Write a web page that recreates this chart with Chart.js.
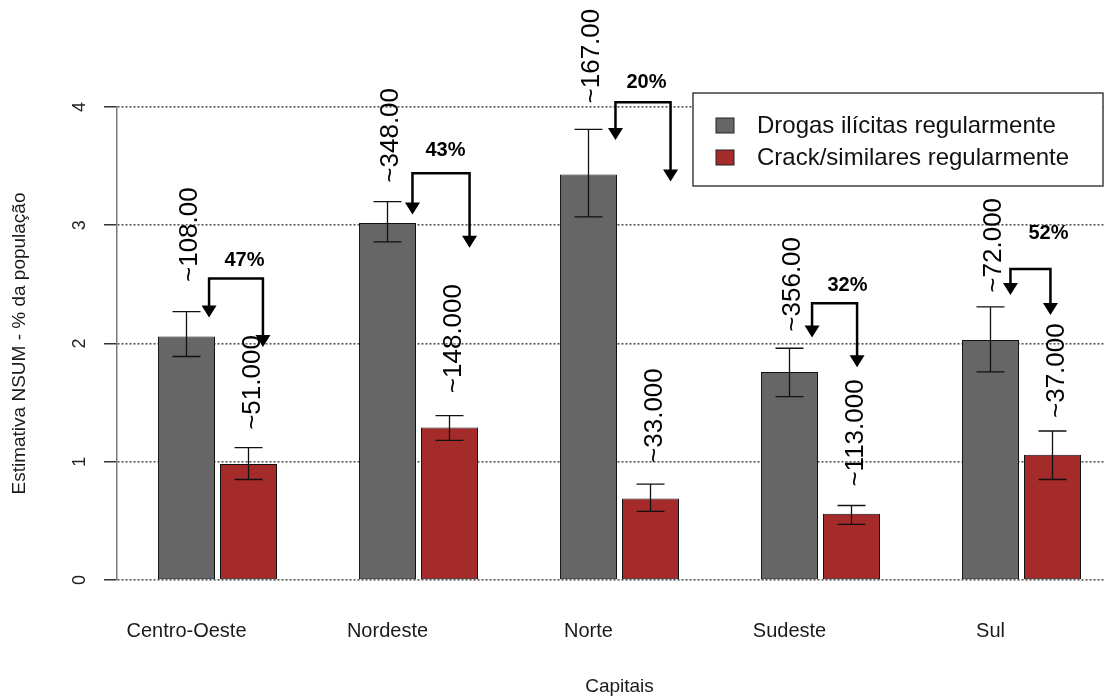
<!DOCTYPE html>
<html>
<head>
<meta charset="utf-8">
<script src="https://cdn.jsdelivr.net/npm/chart.js@4.4.0/dist/chart.umd.min.js"></script>
<style>
  html, body { margin: 0; padding: 0; overflow: hidden; background: #fff; }
  #wrap { width: 1122px; height: 698px; position: relative; }
</style>
</head>
<body>
<div id="wrap"><canvas id="grafico"></canvas></div>
<script>
// dados
const capitais = ['Centro-Oeste', 'Nordeste', 'Norte', 'Sudeste', 'Sul'];
const drogas   = [2.06, 3.02, 3.43, 1.76, 2.03];
const drogasLo = [1.89, 2.86, 3.07, 1.55, 1.76];
const drogasHi = [2.27, 3.20, 3.81, 1.96, 2.31];
const crack    = [0.98, 1.29, 0.69, 0.56, 1.06];
const crackLo  = [0.85, 1.18, 0.58, 0.47, 0.85];
const crackHi  = [1.12, 1.39, 0.81, 0.63, 1.26];
const drogasTxt = ['~108.00', '~348.00', '~167.00', '~356.00', '~72.000'];
const crackTxt  = ['~51.000', '~148.000', '~33.000', '~113.000', '~37.000'];
const reducao   = ['47%', '43%', '20%', '32%', '52%'];
const yTicks    = [0, 1, 2, 3, 4];

// onde ficam as anotações (unidades do eixo y / posição na categoria)
const baseTxtDrogas = [2.52, 3.36, 4.03, 2.10, 2.43];
const baseTxtCrack  = [1.27, 1.58, 0.99, 0.79, 1.37];
const chaveTopo     = [2.55, 3.44, 4.04, 2.34, 2.63];
const pontaEsq      = [2.22, 3.09, 3.72, 2.05, 2.41];
const pontaDir      = [1.97, 2.81, 3.37, 1.80, 2.24];
const pctY          = [2.70, 3.63, 4.21, 2.49, 2.93];
const setaEsqX      = [-0.042, -0.030, -0.020, -0.042, -0.055];
const setaDirX      = [0.226, 0.254, 0.254, 0.182, 0.144];

const FONTE = '"Liberation Sans", Arial, Helvetica, sans-serif';
Chart.defaults.font.family = FONTE;

function seta(ctx, x, ponta) {
  ctx.beginPath();
  ctx.moveTo(x - 7.5, ponta - 12);
  ctx.lineTo(x + 7.5, ponta - 12);
  ctx.lineTo(x, ponta);
  ctx.closePath();
  ctx.fill();
}

const anotacoes = {
  id: 'anotacoes',
  afterDatasetsDraw(chart) {
    const ctx = chart.ctx;
    const ys = chart.scales.y, xs = chart.scales.x;
    const m0 = chart.getDatasetMeta(0), m1 = chart.getDatasetMeta(1);
    ctx.save();

    // barras de erro
    ctx.strokeStyle = '#111';
    ctx.lineWidth = 1.3;
    [[m0, drogasLo, drogasHi], [m1, crackLo, crackHi]].forEach(([meta, lo, hi]) => {
      meta.data.forEach((bar, i) => {
        const a = ys.getPixelForValue(lo[i]), b = ys.getPixelForValue(hi[i]);
        ctx.beginPath();
        ctx.moveTo(bar.x, a); ctx.lineTo(bar.x, b);
        ctx.moveTo(bar.x - 14, a); ctx.lineTo(bar.x + 14, a);
        ctx.moveTo(bar.x - 14, b); ctx.lineTo(bar.x + 14, b);
        ctx.stroke();
      });
    });

    // textos rotacionados
    ctx.fillStyle = '#000';
    ctx.font = '26px ' + FONTE;
    ctx.textAlign = 'left';
    ctx.textBaseline = 'middle';
    const rot = (txt, x, y) => {
      ctx.save();
      ctx.translate(x, y);
      ctx.rotate(-Math.PI / 2);
      ctx.fillText(txt, 0, 0);
      ctx.restore();
    };
    m0.data.forEach((bar, i) => rot(drogasTxt[i], bar.x + 3, ys.getPixelForValue(baseTxtDrogas[i])));
    m1.data.forEach((bar, i) => rot(crackTxt[i], bar.x + 4, ys.getPixelForValue(baseTxtCrack[i])));

    // chaves com setas
    ctx.strokeStyle = '#000';
    ctx.lineWidth = 2.5;
    ctx.lineJoin = 'miter';
    capitais.forEach((c, i) => {
      const xl = xs.getPixelForValue(i + setaEsqX[i]);
      const xr = xs.getPixelForValue(i + setaDirX[i]);
      const yt = ys.getPixelForValue(chaveTopo[i]);
      const tl = ys.getPixelForValue(pontaEsq[i]);
      const tr = ys.getPixelForValue(pontaDir[i]);
      ctx.beginPath();
      ctx.moveTo(xl, tl - 11);
      ctx.lineTo(xl, yt);
      ctx.lineTo(xr, yt);
      ctx.lineTo(xr, tr - 11);
      ctx.stroke();
      seta(ctx, xl, tl);
      seta(ctx, xr, tr);
    });

    // percentuais
    ctx.font = 'bold 20px ' + FONTE;
    ctx.textAlign = 'center';
    m1.data.forEach((bar, i) => {
      ctx.fillText(reducao[i], bar.x - 4, ys.getPixelForValue(pctY[i]));
    });

    // rótulos do eixo y (girados como no R)
    ctx.font = '18px ' + FONTE;
    ctx.fillStyle = '#222';
    yTicks.forEach(t => {
      ctx.save();
      ctx.translate(80, ys.getPixelForValue(t));
      ctx.rotate(-Math.PI / 2);
      ctx.fillText(String(t), 0, 0);
      ctx.restore();
    });
    ctx.restore();
  },
  afterDraw(chart) {
    // legenda
    const ctx = chart.ctx;
    const top = chart.chartArea.top;
    const bx = 693, by = top - 14, bw = 410, bh = 93;
    ctx.save();
    ctx.fillStyle = '#fff';
    ctx.fillRect(bx, by, bw, bh);
    ctx.strokeStyle = '#333';
    ctx.lineWidth = 1.4;
    ctx.strokeRect(bx, by, bw, bh);
    ctx.font = '24px ' + FONTE;
    ctx.textAlign = 'left';
    ctx.textBaseline = 'middle';
    chart.data.datasets.forEach((ds, i) => {
      const sy = by + 25 + i * 32;
      ctx.fillStyle = ds.backgroundColor;
      ctx.fillRect(bx + 23, sy, 18, 15);
      ctx.strokeStyle = '#222';
      ctx.lineWidth = 1;
      ctx.strokeRect(bx + 23, sy, 18, 15);
      ctx.fillStyle = '#111';
      ctx.fillText(ds.label, bx + 64, sy + 8);
    });
    ctx.restore();
  }
};

new Chart(document.getElementById('grafico'), {
  type: 'bar',
  data: {
    labels: capitais,
    datasets: [
      {
        label: 'Drogas ilícitas regularmente',
        data: drogas,
        backgroundColor: '#666666',
        borderColor: '#111',
        borderWidth: 1,
        borderSkipped: false,
        barPercentage: 0.92,
        categoryPercentage: 0.617
      },
      {
        label: 'Crack/similares regularmente',
        data: crack,
        backgroundColor: '#A52A2A',
        borderColor: '#111',
        borderWidth: 1,
        borderSkipped: false,
        barPercentage: 0.92,
        categoryPercentage: 0.617
      }
    ]
  },
  options: {
    responsive: true,
    maintainAspectRatio: false,
    animation: false,
    layout: { padding: { top: 107, left: 0, right: 0, bottom: 0 } },
    plugins: {
      legend: { display: false },
      tooltip: { enabled: false }
    },
    scales: {
      x: {
        grid: { display: false, drawTicks: false },
        border: { display: false },
        ticks: {
          font: { size: 20 },
          color: '#1a1a1a',
          padding: 39,
          labelOffset: -31,
          maxRotation: 0,
          autoSkip: false
        },
        title: {
          display: true,
          text: 'Capitais',
          font: { size: 19 },
          color: '#1a1a1a',
          padding: 0
        },
        afterFit(s) { s.height = 118; }
      },
      y: {
        min: 0,
        max: 4,
        ticks: { stepSize: 1, display: false },
        grid: {
          color: '#555',
          lineWidth: 1.6,
          tickColor: '#000',
          tickLength: 13,
          tickWidth: 1.2
        },
        border: { display: true, color: '#7a7a7a', width: 1.5, dash: [2, 2] },
        title: {
          display: true,
          text: 'Estimativa NSUM - % da população',
          font: { size: 19 },
          color: '#1a1a1a',
          padding: { top: 8, bottom: 0 }
        },
        afterFit(s) { s.width = 117; }
      }
    }
  },
  plugins: [anotacoes]
});
</script>
</body>
</html>
